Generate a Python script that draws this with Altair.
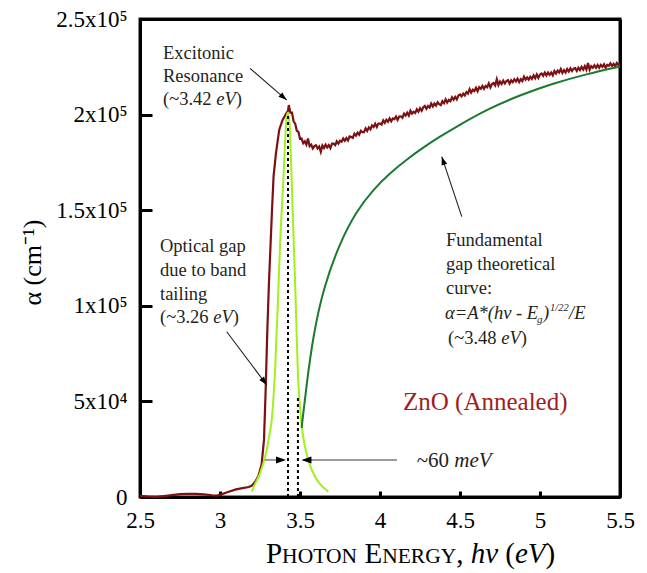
import math
import altair as alt
import pandas as pd

# ---------------------------------------------------------------- geometry
W, H = 480, 478            # plot area in px
LEFT, TOP = 140, 19        # plot origin inside the canvas
X_MIN, X_MAX = 2.5, 5.5
Y_MAX = 250000
PX_X = W / (X_MAX - X_MIN)  # px per eV
PX_Y = H / Y_MAX            # px per cm^-1

# ---------------------------------------------------------------- data
# ZnO (annealed) absorption below and across the exciton peak
# photon energy (eV) / alpha (10^3 cm^-1)
edge_ev = [2.50, 2.55, 2.60, 2.65, 2.70, 2.75, 2.80, 2.85, 2.90, 2.95, 2.98,
           3.00, 3.05, 3.10, 3.15, 3.18, 3.20, 3.22, 3.24, 3.26, 3.275, 3.285,
           3.295, 3.305, 3.315, 3.325, 3.335, 3.35, 3.37, 3.39, 3.41, 3.425, 3.43]
edge_k = [0.6, 0.2, 0.0, 0.5, 1.0, 1.5, 1.7, 1.6, 1.4, 0.9, 0.7,
          1.1, 2.6, 4.0, 4.8, 5.2, 6.0, 8.0, 11.0, 17.0, 30.0, 55.0,
          85.0, 110.0, 130.0, 150.0, 168.0, 180.0, 192.0, 197.0, 200.0, 202.0, 205.0]

# ZnO (annealed) absorption above the exciton, one reading every 10 meV from 3.44 eV
tail_k = [
    201.0, 201.0, 196.5, 195.3, 191.5, 191.0, 187.3, 187.5, 185.0, 186.0,
    184.3, 187.5, 183.5, 184.3, 182.3, 183.5, 184.0, 182.3, 183.3, 180.5,
    183.8, 182.5, 184.3, 182.8, 184.0, 182.5, 184.8, 184.8, 184.0, 186.0,
    184.8, 186.3, 185.8, 187.5, 186.3, 187.7, 186.5, 188.6, 188.3, 187.8,
    190.0, 189.0, 190.5, 189.5, 191.5, 190.8, 190.8, 192.8, 191.5, 193.3,
    192.3, 194.3, 193.5, 195.2, 193.5, 195.3, 195.3, 194.8, 197.0, 195.7,
    197.3, 196.3, 198.0, 196.5, 198.0, 197.6, 199.0, 197.2, 199.0, 199.1,
    198.3, 200.5, 199.5, 201.0, 199.5, 202.0, 200.5, 201.5, 200.8, 202.8,
    201.5, 203.3, 202.0, 203.7, 204.5, 203.0, 204.5, 203.7, 205.8, 204.3,
    205.8, 204.7, 206.5, 205.5, 205.0, 207.0, 206.0, 208.0, 206.3, 207.7,
    207.0, 209.0, 207.8, 209.3, 208.0, 210.0, 210.5, 209.5, 211.0, 210.0,
    211.8, 211.0, 213.3, 211.5, 213.0, 212.3, 214.0, 212.2, 214.3, 213.5,
    215.0, 213.5, 215.0, 214.3, 216.3, 214.2, 216.0, 216.5, 215.3, 218.5,
    215.5, 217.3, 216.0, 217.8, 216.3, 217.5, 218.0, 216.2, 218.0, 217.0,
    218.5, 217.3, 218.8, 217.0, 218.5, 217.5, 219.8, 218.3, 219.5, 218.3,
    219.8, 218.7, 220.5, 219.0, 221.0, 219.2, 221.0, 221.5, 220.3, 222.0,
    220.5, 222.0, 220.8, 222.0, 220.5, 222.8, 221.5, 223.0, 222.0, 223.8,
    221.8, 223.3, 222.0, 223.8, 222.5, 224.2, 222.8, 224.0, 224.3, 222.8,
    224.5, 223.3, 225.0, 223.5, 225.3, 223.5, 227.0, 223.5, 225.3, 224.5,
    225.8, 224.5, 226.0, 224.5, 226.0, 225.0, 226.3, 224.5, 226.0, 225.5,
    226.8, 225.5, 226.5, 225.3, 227.0, 226.0, 226.5,
]
tail_ev = [round(3.44 + 0.01 * i, 2) for i in range(len(tail_k))]

# excitonic resonance peak (Lorentzian-like fit)
peak_ev = [3.198, 3.22, 3.25, 3.27, 3.292, 3.31, 3.323, 3.344, 3.3625, 3.375,
           3.396, 3.417, 3.425, 3.435, 3.448, 3.46, 3.469, 3.489, 3.505, 3.52,
           3.552, 3.594, 3.63, 3.677]
peak_k = [2.8, 7.0, 12.4, 17.5, 24.6, 33.0, 40.0, 66.0, 103.0, 131.0,
          166.0, 199.0, 201.0, 195.0, 166.0, 135.0, 113.0, 61.0, 42.0, 31.5,
          19.4, 10.6, 6.3, 2.8]

# fundamental gap theoretical curve
theo_ev = [3.51, 3.542, 3.583, 3.646, 3.75, 3.854, 3.958, 4.0625, 4.167, 4.27,
           4.375, 4.48, 4.667, 4.875, 5.083, 5.29, 5.50]
theo_k = [36.1, 59.6, 84.7, 109.3, 133.3, 149.6, 160.8, 169.4, 176.5, 182.8,
          188.5, 193.8, 202.7, 210.2, 216.3, 221.2, 225.2]

# exciton position and fundamental gap markers (eV)
gap_marks = [3.425, 3.487]
gap_marks_top_k = [200.0, 52.0]

# axes
x_ticks = [2.5, 3.0, 3.5, 4.0, 4.5, 5.0, 5.5]
x_tick_labels = ["2.5", "3", "3.5", "4", "4.5", "5", "5.5"]
y_ticks = [0, 50000, 100000, 150000, 200000, 250000]
y_tick_labels = ["0", "5x10⁴", "1x10⁵", "1.5x10⁵", "2x10⁵", "2.5x10⁵"]

# ---------------------------------------------------------------- colours
RED = "#7d1012"
LABEL_RED = "#a11d21"
LIME = "#a2f01c"
GREEN = "#1b7a2e"
INK = "#231f20"
SERIF = "Liberation Serif"


def kilo(vals):
    return [v * 1000 for v in vals]


measured = pd.DataFrame({"ev": edge_ev + tail_ev, "a": kilo(edge_k + tail_k)})
peak = pd.DataFrame({"ev": peak_ev, "a": kilo(peak_k)})
theory = pd.DataFrame({"ev": theo_ev, "a": kilo(theo_k)})


def at(px, py):
    """Canvas pixel -> data coordinates (for annotation placement)."""
    return X_MIN + (px - LEFT) / PX_X, Y_MAX - (py - TOP) / PX_Y


def label_expr(values, labels):
    expr = f"'{labels[-1]}'"
    for v, t in reversed(list(zip(values[:-1], labels[:-1]))):
        expr = f"datum.value == {v} ? '{t}' : {expr}"
    return expr


xs = alt.Scale(domain=[X_MIN, X_MAX], nice=False, zero=False)
ys = alt.Scale(domain=[0, Y_MAX], nice=False)
LINE_W = 3

x_axis = alt.Axis(values=x_ticks, labelExpr=label_expr(x_ticks, x_tick_labels),
                  title=None, domain=True, domainColor="black", domainWidth=LINE_W,
                  ticks=False, grid=False,
                  labelFont=SERIF, labelFontSize=23, labelColor="black",
                  labelBaseline="alphabetic", labelPadding=30, labelFlush=False)
y_axis = alt.Axis(values=y_ticks, labelExpr=label_expr(y_ticks, y_tick_labels),
                  title="α (cm⁻¹)", domain=True, domainColor="black", domainWidth=LINE_W,
                  ticks=False, grid=False,
                  labelFont=SERIF, labelFontSize=23, labelColor="black",
                  labelPadding=13, labelFlush=False,
                  titleFont=SERIF, titleFontSize=26, titleFontWeight="normal",
                  titleColor="black", titleAngle=270, titleX=-100, titleY=243,
                  titleAlign="center", titleBaseline="alphabetic")

# axes drawn once; every other layer uses the same scales without an axis
X_AX = alt.X("ev:Q", scale=xs, axis=x_axis)
Y_AX = alt.Y("a:Q", scale=ys, axis=y_axis)
X = alt.X("ev:Q", scale=xs, axis=None)
Y = alt.Y("a:Q", scale=ys, axis=None)
X2 = alt.X2("ev2")
Y2 = alt.Y2("a2")

# ---------------------------------------------------------------- curves
measured_line = alt.Chart(measured).mark_line(color=RED, strokeWidth=2.2).encode(x=X_AX, y=Y_AX)
peak_line = alt.Chart(peak).mark_line(color=LIME, strokeWidth=2, interpolate="monotone").encode(x=X, y=Y)
theory_line = alt.Chart(theory).mark_line(color=GREEN, strokeWidth=2, interpolate="basis").encode(x=X, y=Y)

markers = pd.DataFrame({"ev": gap_marks, "a": [0.0, 0.0], "a2": kilo(gap_marks_top_k)})
marker_rules = alt.Chart(markers).mark_rule(color="black", strokeWidth=2, strokeDash=[3, 3]).encode(
    x=X, y=Y, y2=Y2)

# ---------------------------------------------------------------- top / right sides and inward ticks
anchor = pd.DataFrame({"ev": [X_MIN], "a": [0.0]})
box_far = alt.Chart(anchor).mark_point(opacity=0).encode(
    x=alt.X("ev:Q", scale=xs, axis=alt.Axis(
        orient="top", domain=True, domainColor="black", domainWidth=LINE_W,
        labels=False, ticks=False, grid=False, title=None)),
    y=alt.Y("a:Q", scale=ys, axis=alt.Axis(
        orient="right", domain=True, domainColor="black", domainWidth=LINE_W,
        labels=False, ticks=False, grid=False, title=None)),
)
# a top axis moved down to the bottom edge and a right axis moved to the left
# edge: their ticks then point into the plot
inward_ticks = alt.Chart(anchor).mark_point(opacity=0).encode(
    x=alt.X("ev:Q", scale=xs, axis=alt.Axis(
        orient="top", offset=-H, values=x_ticks[1:-1], domain=False, labels=False,
        ticks=True, tickSize=6, tickWidth=LINE_W, tickColor="black", grid=False, title=None)),
    y=alt.Y("a:Q", scale=ys, axis=alt.Axis(
        orient="right", offset=-W, values=y_ticks[1:-1], domain=False, labels=False,
        ticks=True, tickSize=12, tickWidth=LINE_W, tickColor="black", grid=False, title=None)),
)

# ---------------------------------------------------------------- arrows
def heading(x0, y0, x1, y1):
    dx = (x1 - x0) * PX_X
    dy = -(y1 - y0) * PX_Y
    return math.degrees(math.atan2(dx, -dy)) % 360


fwhm_y = 19400
pointer_rows = [
    # start (ev, alpha) -> tip (ev, alpha)
    (3.1875, 224200, 3.417, 207600),   # excitonic resonance
    (3.042, 86450, 3.292, 58600),      # optical gap
    (4.511, 146600, 4.386, 178000),    # fundamental gap curve
]
pointers = pd.DataFrame(pointer_rows, columns=["ev", "a", "ev2", "a2"])
pointer_lines = alt.Chart(pointers).mark_rule(color=INK, strokeWidth=1.1).encode(x=X, y=Y, x2=X2, y2=Y2)

fwhm = pd.DataFrame({"ev": [3.28, 3.52], "ev2": [3.40, 4.106], "a": [fwhm_y, fwhm_y]})
fwhm_lines = alt.Chart(fwhm).mark_rule(color="#9a9a9a", strokeWidth=2).encode(x=X, x2=X2, y=Y)

heads = pd.DataFrame({
    "ev": [r[2] for r in pointer_rows] + [3.4125, 3.509],
    "a": [r[3] for r in pointer_rows] + [fwhm_y, fwhm_y],
    "ang": [heading(*r) for r in pointer_rows] + [90.0, 270.0],
    "sz": [70, 70, 70, 100, 100],
})
ARROW = "M0,0L-0.7,2L0.7,2Z"
arrow_heads = alt.Chart(heads).mark_point(shape=ARROW, filled=True, color="black",
                                          opacity=1, strokeWidth=0).encode(
    x=X, y=Y, angle=alt.Angle("ang:Q", scale=None), size=alt.Size("sz:Q", scale=None))

# ---------------------------------------------------------------- text
# (text, canvas px left, canvas px baseline, size, italic, colour)
S = 18.5
BIG, SC = 29, 21.5
pieces = [
    ("Excitonic", 163, 58.5, S, False, INK),
    ("Resonance", 163, 81.5, S, False, INK),
    ("(~3.42 ", 163, 104.5, S, False, INK),
    ("eV", 216.2, 104.5, S, True, INK),
    (")", 235.7, 104.5, S, False, INK),

    ("Optical gap", 160, 251.5, S, False, INK),
    ("due to band", 160, 275.5, S, False, INK),
    ("tailing", 160, 299.5, S, False, INK),
    ("(~3.26 ", 160, 323, S, False, INK),
    ("eV", 213.2, 323, S, True, INK),
    (")", 232.7, 323, S, False, INK),

    ("Fundamental", 446, 246, S, False, INK),
    ("gap theoretical", 446, 270, S, False, INK),
    ("curve:", 446, 294, S, False, INK),
    ("α=A*(hν - E", 445, 318.5, S, True, INK),
    ("g", 537, 322.5, 11, True, INK),
    (")", 543, 318.5, S, True, INK),
    ("1/22", 550, 311, 10.5, True, INK),
    ("/E", 569, 318.5, S, True, INK),
    ("(~3.48 ", 448, 343.5, S, False, INK),
    ("eV", 501.2, 343.5, S, True, INK),
    (")", 520.7, 343.5, S, False, INK),

    ("ZnO (Annealed)", 403, 410, 25, False, LABEL_RED),

    ("~60 ", 416.7, 467, 21, False, INK),
    ("meV", 454.3, 467, 21, True, INK),

    # x axis title, small caps
    ("P", 266, 563, BIG, False, "black"),
    ("HOTON", 282.1, 563, SC, False, "black"),
    ("E", 364.5, 563, BIG, False, "black"),
    ("NERGY", 382.2, 563, SC, False, "black"),
    (",", 456.2, 563, BIG, False, "black"),
    ("hν", 470.7, 563, BIG, True, "black"),
    ("(", 505.3, 563, BIG, False, "black"),
    ("eV", 515, 563, BIG, True, "black"),
    (")", 545.6, 563, BIG, False, "black"),
]
rows = []
for text, px, py, size, italic, col in pieces:
    ev, a = at(px, py)
    rows.append({"text": text, "ev": ev, "a": a, "size": size, "italic": italic, "col": col})
notes = pd.DataFrame(rows)


def text_layer(italic):
    return alt.Chart(notes).transform_filter(
        f"{'' if italic else '!'}datum.italic"
    ).mark_text(align="left", baseline="alphabetic", font=SERIF,
                fontStyle="italic" if italic else "normal").encode(
        x=X, y=Y, text="text:N",
        size=alt.Size("size:Q", scale=None),
        color=alt.Color("col:N", scale=None))


chart = alt.layer(
    measured_line,
    box_far, inward_ticks,
    peak_line, theory_line, marker_rules,
    fwhm_lines, pointer_lines, arrow_heads,
    text_layer(False), text_layer(True),
).resolve_axis(x="independent", y="independent").properties(
    width=W, height=H,
    padding={"left": LEFT, "top": TOP, "right": 647 - LEFT - W, "bottom": 573 - TOP - H},
    autosize=alt.AutoSizeParams(type="none"),
).configure_view(stroke="#111111", strokeWidth=LINE_W)

chart.save("out.html", embed_options={"renderer": "svg", "actions": False})
